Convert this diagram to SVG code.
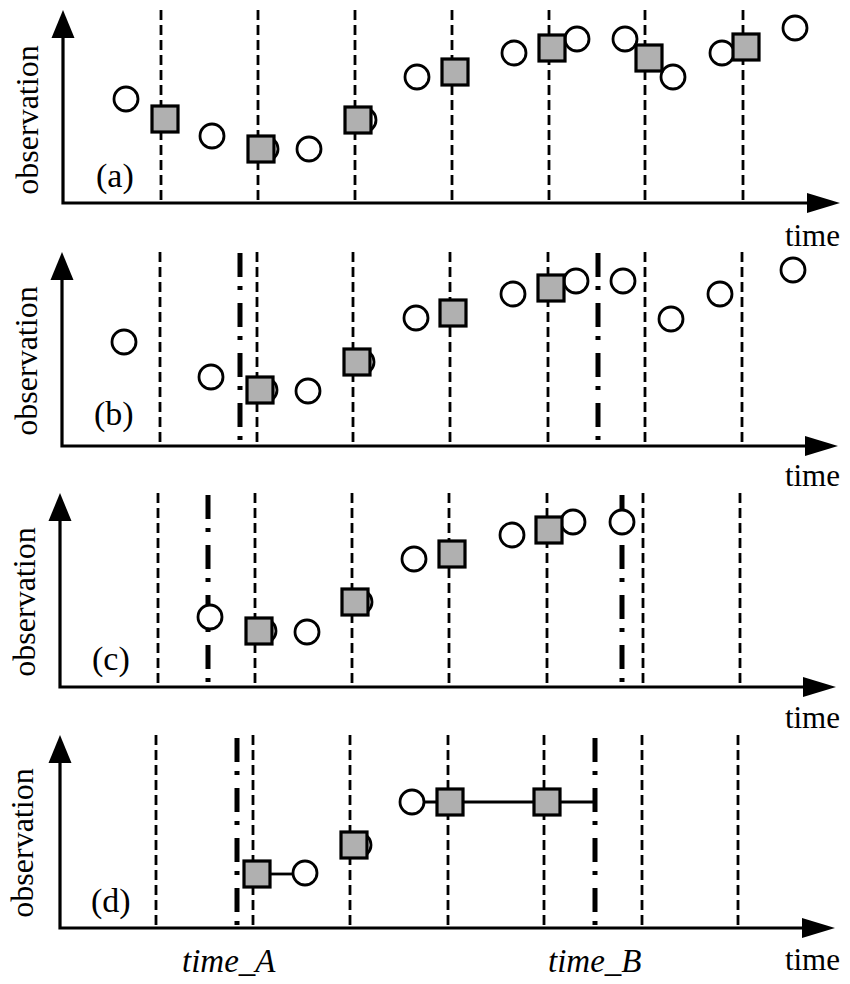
<svg xmlns="http://www.w3.org/2000/svg" width="850" height="984" viewBox="0 0 850 984">
<style>
.ax{stroke:#000;stroke-width:3.2;fill:none}
.ah{fill:#000;stroke:none}
.dash{stroke:#000;stroke-width:2.8;stroke-dasharray:10 5;fill:none}
.dd{stroke:#000;stroke-width:5;stroke-dasharray:24 9 4 13;fill:none}
.c{fill:#fff;stroke:#000;stroke-width:2.8}
.s{fill:#b0b0b0;stroke:#000;stroke-width:3.2}
.ln{stroke:#000;stroke-width:2.8;fill:none}
text{font-family:"Liberation Serif","Times New Roman",serif;fill:#000}
.lab{font-size:32px}
.pl{font-size:34px}
.tm{font-size:31px}
.it{font-size:33px;font-style:italic}
</style>
<rect width="850" height="984" fill="#fff"/>

<g id="panel-a">
<g id="grid-a">
<line class="dash" x1="161" y1="10" x2="161" y2="203"/>
<line class="dash" x1="258" y1="10" x2="258" y2="203"/>
<line class="dash" x1="355" y1="10" x2="355" y2="203"/>
<line class="dash" x1="452" y1="10" x2="452" y2="203"/>
<line class="dash" x1="549" y1="10" x2="549" y2="203"/>
<line class="dash" x1="645" y1="10" x2="645" y2="203"/>
<line class="dash" x1="743" y1="10" x2="743" y2="203"/>
</g>
<g id="axes-a">
<polyline class="ax" points="63,34 63,203 810,203"/>
<polygon class="ah" points="63,10 51.5,38 74.5,38"/>
<polygon class="ah" points="840,203 807,193 807,213"/>
</g>
<text class="lab" transform="translate(38,120) rotate(-90)" text-anchor="middle">observation</text>
<text class="pl" x="96" y="187">(a)</text>
<text class="tm" x="840" y="246" text-anchor="end">time</text>
<g id="circles-a">
<circle class="c" cx="126" cy="99" r="12"/>
<circle class="c" cx="212" cy="136" r="12"/>
<circle class="c" cx="266" cy="149" r="12"/>
<circle class="c" cx="309" cy="149" r="12"/>
<circle class="c" cx="364" cy="120" r="12"/>
<circle class="c" cx="417" cy="77" r="12"/>
<circle class="c" cx="514" cy="53" r="12"/>
<circle class="c" cx="577" cy="39" r="12"/>
<circle class="c" cx="625" cy="39" r="12"/>
<circle class="c" cx="673" cy="77" r="12"/>
<circle class="c" cx="722" cy="53" r="12"/>
<circle class="c" cx="795" cy="28" r="12"/>
</g>
<g id="squares-a">
<rect class="s" x="152" y="106" width="26" height="26"/>
<rect class="s" x="248" y="136" width="26" height="26"/>
<rect class="s" x="345" y="107" width="26" height="26"/>
<rect class="s" x="442" y="59" width="26" height="26"/>
<rect class="s" x="539" y="35" width="26" height="26"/>
<rect class="s" x="636" y="45" width="26" height="26"/>
<rect class="s" x="733" y="34" width="26" height="26"/>
</g>
</g>

<g id="panel-b">
<g id="grid-b">
<line class="dash" x1="160" y1="252" x2="160" y2="446"/>
<line class="dash" x1="257" y1="252" x2="257" y2="446"/>
<line class="dash" x1="353" y1="252" x2="353" y2="446"/>
<line class="dash" x1="450" y1="252" x2="450" y2="446"/>
<line class="dash" x1="548" y1="252" x2="548" y2="446"/>
<line class="dash" x1="645" y1="252" x2="645" y2="446"/>
<line class="dash" x1="742" y1="252" x2="742" y2="446"/>
<line class="dd" x1="240" y1="253" x2="240" y2="446"/>
<line class="dd" x1="598" y1="253" x2="598" y2="446"/>
</g>
<g id="axes-b">
<polyline class="ax" points="62,276 62,446 808,446"/>
<polygon class="ah" points="62,252 50.5,280 73.5,280"/>
<polygon class="ah" points="838,446 805,436 805,456"/>
</g>
<text class="lab" transform="translate(37,361) rotate(-90)" text-anchor="middle">observation</text>
<text class="pl" x="94" y="425">(b)</text>
<text class="tm" x="840" y="486" text-anchor="end">time</text>
<g id="circles-b">
<circle class="c" cx="124" cy="342" r="12"/>
<circle class="c" cx="211" cy="377" r="12"/>
<circle class="c" cx="265" cy="390" r="12"/>
<circle class="c" cx="308" cy="391" r="12"/>
<circle class="c" cx="362" cy="362" r="12"/>
<circle class="c" cx="416" cy="318" r="12"/>
<circle class="c" cx="513" cy="294" r="12"/>
<circle class="c" cx="576" cy="281" r="12"/>
<circle class="c" cx="623" cy="281" r="12"/>
<circle class="c" cx="671" cy="319" r="12"/>
<circle class="c" cx="720" cy="294" r="12"/>
<circle class="c" cx="793" cy="270" r="12"/>
</g>
<g id="squares-b">
<rect class="s" x="247" y="377" width="26" height="26"/>
<rect class="s" x="344" y="349" width="26" height="26"/>
<rect class="s" x="440" y="300" width="26" height="26"/>
<rect class="s" x="538" y="275" width="26" height="26"/>
</g>
</g>

<g id="panel-c">
<g id="grid-c">
<line class="dash" x1="158" y1="493" x2="158" y2="687"/>
<line class="dash" x1="255" y1="493" x2="255" y2="687"/>
<line class="dash" x1="352" y1="493" x2="352" y2="687"/>
<line class="dash" x1="449" y1="493" x2="449" y2="687"/>
<line class="dash" x1="547" y1="493" x2="547" y2="687"/>
<line class="dash" x1="643" y1="493" x2="643" y2="687"/>
<line class="dash" x1="740" y1="493" x2="740" y2="687"/>
<line class="dd" x1="208" y1="495" x2="208" y2="687"/>
<line class="dd" x1="622" y1="495" x2="622" y2="687"/>
</g>
<g id="axes-c">
<polyline class="ax" points="60,517 60,687 806,687"/>
<polygon class="ah" points="60,493 48.5,521 71.5,521"/>
<polygon class="ah" points="836,687 803,677 803,697"/>
</g>
<text class="lab" transform="translate(35,602) rotate(-90)" text-anchor="middle">observation</text>
<text class="pl" x="92" y="670">(c)</text>
<text class="tm" x="840" y="728" text-anchor="end">time</text>
<g id="circles-c">
<circle class="c" cx="210" cy="617" r="12"/>
<circle class="c" cx="264" cy="631" r="12"/>
<circle class="c" cx="307" cy="632" r="12"/>
<circle class="c" cx="360" cy="602" r="12"/>
<circle class="c" cx="414" cy="559" r="12"/>
<circle class="c" cx="512" cy="535" r="12"/>
<circle class="c" cx="573" cy="522" r="12"/>
<circle class="c" cx="622" cy="522" r="12"/>
</g>
<g id="squares-c">
<rect class="s" x="246" y="618" width="26" height="26"/>
<rect class="s" x="342" y="589" width="26" height="26"/>
<rect class="s" x="439" y="541" width="26" height="26"/>
<rect class="s" x="536" y="517" width="26" height="26"/>
</g>
</g>

<g id="panel-d">
<g id="grid-d">
<line class="dash" x1="156" y1="735" x2="156" y2="928"/>
<line class="dash" x1="253" y1="735" x2="253" y2="928"/>
<line class="dash" x1="350" y1="735" x2="350" y2="928"/>
<line class="dash" x1="448" y1="735" x2="448" y2="928"/>
<line class="dash" x1="544" y1="735" x2="544" y2="928"/>
<line class="dash" x1="642" y1="735" x2="642" y2="928"/>
<line class="dash" x1="738" y1="735" x2="738" y2="928"/>
<line class="dd" x1="237" y1="738" x2="237" y2="928"/>
<line class="dd" x1="595" y1="738" x2="595" y2="928"/>
</g>
<g id="axes-d">
<polyline class="ax" points="60,759 60,928 805,928"/>
<polygon class="ah" points="60,735 48.5,763 71.5,763"/>
<polygon class="ah" points="835,928 802,918 802,938"/>
</g>
<text class="lab" transform="translate(33,843) rotate(-90)" text-anchor="middle">observation</text>
<text class="pl" x="91" y="912">(d)</text>
<text class="tm" x="840" y="970" text-anchor="end">time</text>
<text class="it" x="182" y="972">time_A</text>
<text class="it" x="548" y="972">time_B</text>
</g>

<g id="connectors">
<line class="ln" x1="270" y1="874" x2="293" y2="874"/>
<line class="ln" x1="424" y1="802" x2="595" y2="802"/>
</g>

<g id="points-d">
<circle class="c" cx="305" cy="873" r="12"/>
<circle class="c" cx="359" cy="845" r="12"/>
<circle class="c" cx="412" cy="802" r="12"/>
<rect class="s" x="244" y="861" width="26" height="26"/>
<rect class="s" x="341" y="832" width="26" height="26"/>
<rect class="s" x="437" y="789" width="26" height="26"/>
<rect class="s" x="534" y="789" width="26" height="26"/>
</g>
</svg>
